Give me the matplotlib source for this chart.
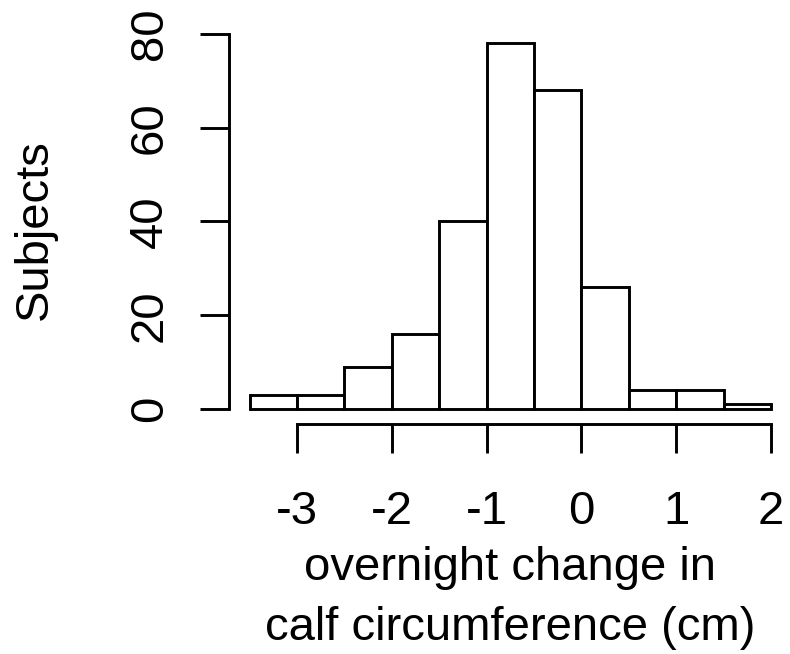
import matplotlib
matplotlib.use("Agg")
import matplotlib.pyplot as plt
import numpy as np

plt.rcParams['font.family'] = ['Liberation Sans', 'DejaVu Sans']

bin_edges = [-3.5, -3.0, -2.5, -2.0, -1.5, -1.0, -0.5, 0.0, 0.5, 1.0, 1.5, 2.0]
counts = [3, 3, 9, 16, 40, 78, 68, 26, 4, 4, 1]
x_ticks = [-3, -2, -1, 0, 1, 2]
y_ticks = [0, 20, 40, 60, 80]
x_label_lines = ["overnight change in", "calf circumference (cm)"]
y_label = "Subjects"

W, H = 790, 654
fig = plt.figure(figsize=(W / 100, H / 100), dpi=100)
left_px, right_px, top_px, bottom_px = 228.7, 791.9, 28.75, 423.6
ax = fig.add_axes([left_px / W, 1 - bottom_px / H,
                   (right_px - left_px) / W, (bottom_px - top_px) / H])

edges = np.array(bin_edges)
widths = np.diff(edges)
lw = 2.1
ax.bar(edges[:-1], counts, width=widths, align='edge', facecolor='white',
       edgecolor='black', linewidth=lw)

ax.set_xlim(-3.72, 2.22)
ax.set_ylim(-3.12, 81.12)

for s in ['top', 'right']:
    ax.spines[s].set_visible(False)
ax.spines['left'].set_bounds(0, 80)
ax.spines['bottom'].set_bounds(-3, 2)
for s in ['left', 'bottom']:
    ax.spines[s].set_linewidth(lw)

fs = 34
ax.set_xticks(x_ticks)
ax.set_xticklabels([str(v) for v in x_ticks])
ax.set_yticks(y_ticks)
ax.set_yticklabels([str(v) for v in y_ticks], rotation=90, va='center')
ax.tick_params(axis='both', direction='out', length=21, width=lw, labelsize=fs)
ax.tick_params(axis='x', pad=27)
ax.tick_params(axis='y', pad=20)

# x label lines, placed by baseline
cx = (left_px + right_px) / 2 / W
for line, base_px in zip(x_label_lines, [580, 640]):
    fig.text(cx, 1 - base_px / H, line, ha='center', va='baseline', fontsize=fs)

fig.text(47 / W, 1 - 230 / H, y_label, rotation=90, rotation_mode='anchor',
         ha='center', va='baseline', fontsize=fs)

fig.savefig("out.png", dpi=100)
